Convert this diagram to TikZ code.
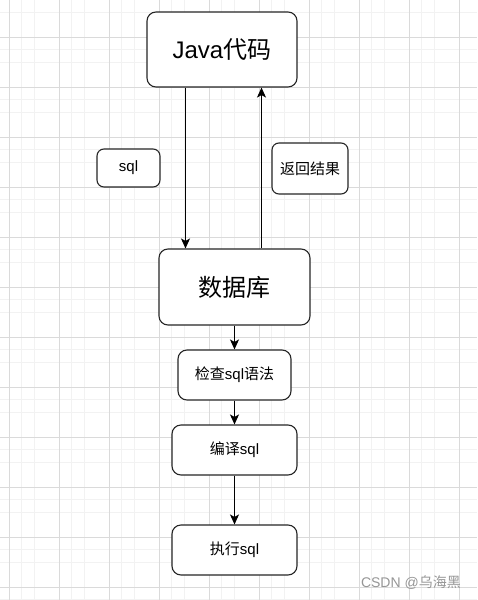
\documentclass[tikz,border=0pt]{standalone}
\usepackage{fontspec}
\setmainfont{Liberation Sans}
\newfontfamily\cjk{Noto Sans CJK SC}
\usetikzlibrary{arrows.meta}
\definecolor{gridminor}{RGB}{242,242,242}
\definecolor{gridmajor}{RGB}{218,218,218}
\definecolor{wm}{RGB}{150,150,150}
\tikzset{
  box/.style={draw=black!85, line width=1.1pt, rounded corners=9pt, fill=white, inner sep=0pt, align=center},
  small/.style={font=\fontsize{15}{17}\selectfont},
  conn/.style={draw=black, line width=1.1pt, -{Stealth[length=10pt,width=9pt,inset=2.5pt]}},
}
\begin{document}
\begin{tikzpicture}[x=1pt,y=-1pt]
\useasboundingbox (0,0) rectangle (477,600);
\fill[white] (0,0) rectangle (477,600);
% grid
\foreach \i in {0,...,37} {
  \pgfmathsetmacro\gx{9+12.5*(\i-1)}
  \pgfmathtruncatemacro\gm{mod(\i+3,4)}
  \ifnum\gm=3 \else\draw[gridminor, line width=0.8pt] (\gx,0) -- (\gx,600);\fi
}
\foreach \i in {0,...,49} {
  \pgfmathsetmacro\gy{37+12.5*(\i-3)}
  \pgfmathtruncatemacro\gm{mod(\i+1,4)}
  \ifnum\gm=3 \else\draw[gridminor, line width=0.8pt] (0,\gy) -- (477,\gy);\fi
}
\foreach \i in {0,...,9} {\draw[gridmajor, line width=0.8pt] (9+50*\i,0) -- (9+50*\i,600);}
\foreach \i in {0,...,11} {\draw[gridmajor, line width=0.8pt] (0,37+50*\i) -- (477,37+50*\i);}
% nodes
\node[box, minimum width=150pt, minimum height=75pt, font=\fontsize{24}{28}\selectfont] (java) at (222,49.5) {Java{\cjk 代码}};
\node[box, minimum width=151pt, minimum height=76pt, font=\fontsize{24}{28}\selectfont\cjk] (db) at (234.5,287) {数据库};
\node[box, small, minimum width=113pt, minimum height=50pt] (check) at (234.5,375) {{\cjk 检查}sql{\cjk 语法}};
\node[box, small, minimum width=125pt, minimum height=50pt] (comp) at (234.5,450) {{\cjk 编译}sql};
\node[box, small, minimum width=125pt, minimum height=50pt] (exec) at (234.5,550) {{\cjk 执行}sql};
\node[box, small, rounded corners=7pt, minimum width=63pt, minimum height=38pt] (sql) at (128.5,168) {sql};
\node[box, small, rounded corners=7pt, minimum width=76pt, minimum height=51pt] (ret) at (310,168.5) {{\cjk 返回结果}};
% connectors
\draw[conn] (java.south -| 185.5,0) -- (db.north -| 185.5,0);
\draw[conn] (db.north -| 261.5,0) -- (java.south -| 261.5,0);
\draw[conn] (db.south -| check.north) -- (check.north);
\draw[conn] (check.south) -- (comp.north);
\draw[conn] (comp.south) -- (exec.north);
% watermark
\node[text=wm, font=\fontsize{14}{16}\selectfont, anchor=east, inner sep=0pt] (wmark) at (461,583) {CSDN @{\cjk 乌海黑}};
\end{tikzpicture}
\end{document}
